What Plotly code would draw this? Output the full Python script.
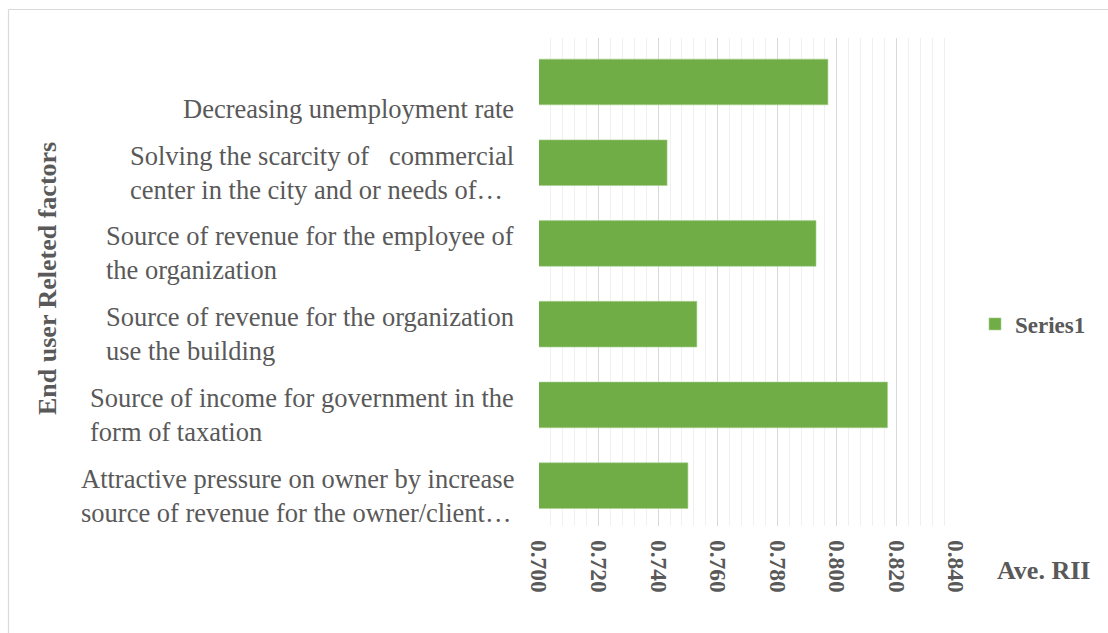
import plotly.graph_objects as go

# Factor labels (top to bottom) and their average RII scores
categories = [
    "\u00a0<br>Decreasing unemployment rate",
    "Solving the scarcity of\u00a0\u00a0\u00a0commercial<br>center in the city and or needs of\u2026",
    "Source of revenue for the employee of<br>the organization",
    "Source of revenue for the organization<br>use the building",
    "Source of income for government in the<br>form of taxation",
    "Attractive pressure on owner by increase<br>source of revenue for the owner/client\u2026",
]
ave_rii = [0.797, 0.743, 0.793, 0.753, 0.817, 0.750]

series_name = "Series1"
x_title = "Ave. RII"
y_title = "End user Releted factors"
x_ticks = [0.700, 0.720, 0.740, 0.760, 0.780, 0.800, 0.820, 0.840]

FONT = "Liberation Serif, Times New Roman, serif"
TXT = "#595959"
W, H = 1108, 633
L, R, T, B = 539, 152, 38, 107
PW, PH = W - L - R, H - T - B


def px_x(px):
    return (px - L) / PW


def px_y(py):
    return (H - B - py) / PH


fig = go.Figure()
fig.add_trace(go.Bar(
    x=ave_rii,
    y=categories,
    orientation="h",
    name=series_name,
    marker=dict(color="#70AD47", line=dict(color="#A9D08E", width=0.6)),
    showlegend=True,
))

# left-aligned category labels beside each bar
annotations = []
for cat in categories:
    annotations.append(dict(
        x=px_x(516), xref="paper", y=cat, yref="y",
        text=cat, showarrow=False, xanchor="right", yanchor="middle",
        align="left", yshift=-10,
        font=dict(family=FONT, size=26.5, color=TXT),
    ))

annotations.append(dict(
    x=px_x(47), xref="paper", y=px_y(279), yref="paper",
    text="<b>" + y_title + "</b>", textangle=-90, showarrow=False,
    xanchor="center", yanchor="middle",
    font=dict(family=FONT, size=26, color=TXT),
))
annotations.append(dict(
    x=px_x(1043), xref="paper", y=px_y(570), yref="paper",
    text="<b>" + x_title + "</b>", showarrow=False,
    xanchor="center", yanchor="middle",
    font=dict(family=FONT, size=26, color=TXT),
))

# outer chart frame
shapes = [
    dict(type="line", xref="paper", yref="paper",
         x0=px_x(8.5), x1=px_x(8.5), y0=px_y(640), y1=px_y(9.5),
         line=dict(color="#D9D9D9", width=1.2)),
    dict(type="line", xref="paper", yref="paper",
         x0=px_x(8.5), x1=px_x(1115), y0=px_y(9.5), y1=px_y(9.5),
         line=dict(color="#D9D9D9", width=1.2)),
]

fig.update_layout(
    width=W, height=H,
    margin=dict(l=L, r=R, t=T, b=B, pad=0),
    paper_bgcolor="white", plot_bgcolor="white",
    bargap=0.434,
    font=dict(family=FONT, color=TXT),
    showlegend=True,
    legend=dict(
        x=px_x(975), y=px_y(324), xanchor="left", yanchor="middle",
        font=dict(family=FONT, size=23, color=TXT, weight="bold"),
        bgcolor="rgba(0,0,0,0)", itemwidth=30,
    ),
    annotations=annotations,
    shapes=shapes,
    xaxis=dict(
        range=[0.700, 0.840],
        tickmode="array", tickvals=x_ticks,
        ticktext=[f"{v:.3f}" for v in x_ticks],
        tickangle=90,
        tickfont=dict(family=FONT, size=23.5, color=TXT, weight="bold"),
        showgrid=True, gridcolor="#D9D9D9", gridwidth=1.2,
        minor=dict(dtick=0.004, tick0=0.700, showgrid=True,
                   gridcolor="#F0F0F0", gridwidth=1.2),
        zeroline=False, showline=False, ticks="",
        ticklabelstandoff=13,
    ),
    yaxis=dict(
        autorange="reversed",
        showticklabels=False, showgrid=False, zeroline=False,
        showline=False, ticks="",
    ),
)

fig.write_html("out.html")
